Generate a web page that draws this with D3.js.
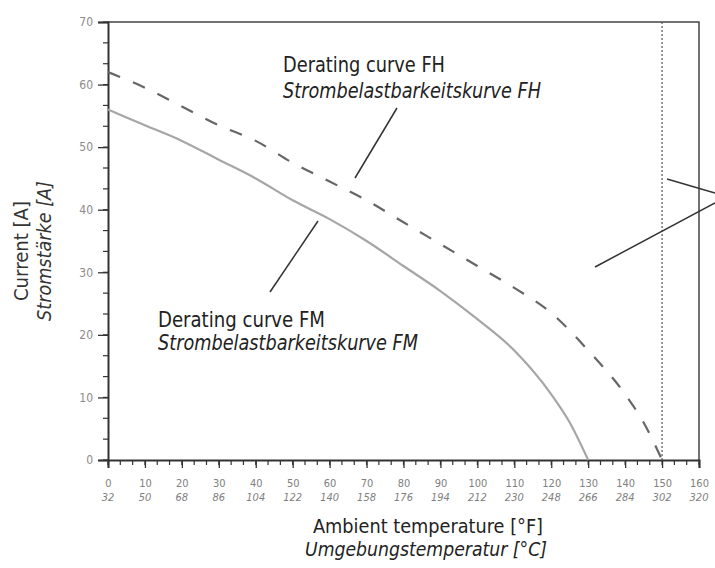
<!DOCTYPE html>
<html><head><meta charset="utf-8">
<script src="https://cdn.jsdelivr.net/npm/d3@7"></script>
<style>
html,body{margin:0;padding:0;background:#fff;}
svg{display:block;}
text{font-family:"Liberation Sans Narrow","DejaVu Sans Condensed","Liberation Sans",sans-serif;}
</style></head>
<body><svg id="c" width="715" height="568"></svg>
<script>
// ---- data ----
const xTicksC = [0,10,20,30,40,50,60,70,80,90,100,110,120,130,140,150,160];
const xTicksF = [32,50,68,86,104,122,140,158,176,194,212,230,248,266,284,302,320];
const yTicks = [0,10,20,30,40,50,60,70];
const fmTemp = [0,10,20,30,40,50,60,70,80,90,100,110,120,125,130];
const fmCurrent = [56,53.5,51,48,45,41.5,38.5,35,31,27,22.5,17.5,10.5,6,0];
const fhTemp = [0,10,20,30,40,50,60,70,80,90,100,110,120,130,140,145,150];
const fhCurrent = [62,59.5,56.5,53.5,51,47.5,44.5,41.5,38,34.5,31,27.5,23.5,17.5,10.5,6,0];
const limitTemp = 150;

const svg = d3.select("#c");
const L=108, R=699, T=22, B=460;
const x = d3.scaleLinear().domain([0,160]).range([L,R]);
const y = d3.scaleLinear().domain([0,70]).range([B,T]);

// frame (top and right)
svg.append("path").attr("d",`M${L},${T}H${R}V${B}`).attr("fill","none").attr("stroke","#444").attr("stroke-width",1.5);

// minor ticks
const minorX = d3.range(0,160.01,10/3);
const minorY = d3.range(0,70.01,10/3);
svg.append("g").selectAll("line").data(minorX).join("line")
  .attr("x1",d=>x(d)).attr("x2",d=>x(d)).attr("y1",B).attr("y2",B+5)
  .attr("stroke","#333").attr("stroke-width",1.2);
svg.append("g").selectAll("line").data(minorY).join("line")
  .attr("y1",d=>y(d)).attr("y2",d=>y(d)).attr("x1",L).attr("x2",L-5)
  .attr("stroke","#333").attr("stroke-width",1.2);

// axes
const xAxis = d3.axisBottom(x).tickValues(xTicksC).tickSize(8).tickFormat(d=>d);
const gx = svg.append("g").attr("transform",`translate(0,${B})`).call(xAxis);
gx.select(".domain").attr("stroke","#333").attr("stroke-width",2);
gx.selectAll(".tick line").attr("stroke","#333").attr("stroke-width",1.3);
gx.selectAll(".tick text").attr("fill","#808080").attr("font-size",11).attr("dy","0").attr("y",27);

svg.append("g").selectAll("text").data(xTicksF).join("text")
  .attr("x",(d,i)=>x(xTicksC[i])).attr("y",501).attr("text-anchor","middle")
  .attr("font-size",11).attr("font-style","italic").attr("fill","#808080").text(d=>d);

const yAxis = d3.axisLeft(y).tickValues(yTicks).tickSize(10);
const gy = svg.append("g").attr("transform",`translate(${L},0)`).call(yAxis);
gy.select(".domain").attr("stroke","#333").attr("stroke-width",2);
gy.selectAll(".tick line").attr("stroke","#333").attr("stroke-width",1.3);
gy.selectAll(".tick text").attr("fill","#8a8a8a").attr("font-size",12).attr("x",-15);

// limit line
svg.append("line").attr("x1",x(limitTemp)).attr("x2",x(limitTemp)).attr("y1",T).attr("y2",B)
  .attr("stroke","#555").attr("stroke-width",1.2).attr("stroke-dasharray","2,2");

// curves
const line = d3.line().x(d=>x(d[0])).y(d=>y(d[1])).curve(d3.curveMonotoneX);
svg.append("path").datum(d3.zip(fmTemp,fmCurrent)).attr("d",line)
  .attr("fill","none").attr("stroke","#a6a6a6").attr("stroke-width",2.2);
svg.append("path").datum(d3.zip(fhTemp,fhCurrent)).attr("d",line)
  .attr("fill","none").attr("stroke","#666").attr("stroke-width",2.2).attr("stroke-dasharray","13,14");

// annotations
function label(g, txt, xx, yy, len, size, italic, anchor){
  const t = g.append("text").attr("x",xx).attr("y",yy).attr("font-size",size)
    .attr("textLength",len).attr("lengthAdjust","spacingAndGlyphs").text(txt);
  if(italic) t.attr("font-style","italic");
  if(anchor) t.attr("text-anchor",anchor);
  return t;
}
const ann = svg.append("g").attr("fill","#222");
label(ann,"Derating curve FH",283,72,162,22,false);
label(ann,"Strombelastbarkeitskurve FH",283,98,258,21,true);
label(ann,"Derating curve FM",158,327,167,22,false);
label(ann,"Strombelastbarkeitskurve FM",158,350,260,21,true);

const leaders = [[397,108,355,178],[318,221,270,292],[595,267,715,203],[667,179,715,193]];
svg.append("g").selectAll("line").data(leaders).join("line")
  .attr("x1",d=>d[0]).attr("y1",d=>d[1]).attr("x2",d=>d[2]).attr("y2",d=>d[3])
  .attr("stroke","#333").attr("stroke-width",1.5);

// axis titles
const at = svg.append("g").attr("fill","#222");
label(at,"Ambient temperature [°F]",313,533,230,19,false);
label(at,"Umgebungstemperatur [°C]",305,556,242,19,true);
const yt = svg.append("g").attr("fill","#333");
yt.append("text").attr("transform","translate(28,251) rotate(-90)").attr("font-size",19)
  .attr("text-anchor","middle").attr("textLength",100).attr("lengthAdjust","spacingAndGlyphs").text("Current [A]");
yt.append("text").attr("transform","translate(51,251) rotate(-90)").attr("font-size",19)
  .attr("text-anchor","middle").attr("textLength",140).attr("lengthAdjust","spacingAndGlyphs")
  .attr("font-style","italic").text("Stromstärke [A]");
</script></body></html>
